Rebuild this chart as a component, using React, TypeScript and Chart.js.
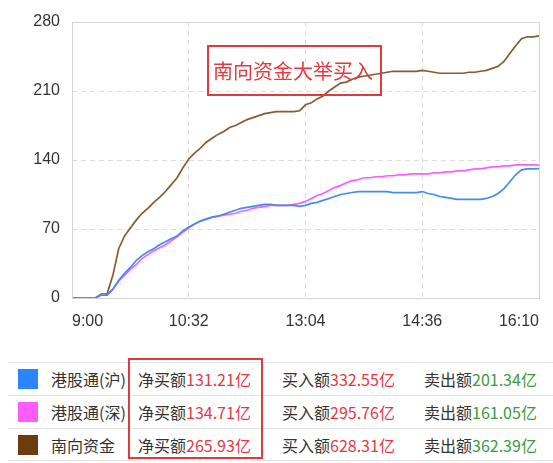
import React, { useEffect, useRef } from "react";
import { Chart, registerables } from "chart.js";

Chart.register(...registerables);

// time axis tick labels (positions 0,100,200,300,400 of the session index)
const xTickLabels = ["9:00", "10:32", "13:04", "14:36", "16:10"];
const yTicks = [0, 70, 140, 210, 280];
const sampleStep = 5;

const seriesNames = ["港股通(沪)", "港股通(深)", "南向资金"];
const lineColors = ["#3f8fe6", "#ff5cff", "#8a5a32"];
const swatchColors = ["#2a86ff", "#ff5cff", "#6e3b0c"];
const netBuy = ["131.21", "134.71", "265.93"];
const buyIn = ["332.55", "295.76", "628.31"];
const sellOut = ["201.34", "161.05", "362.39"];

const shanghai = [
  0, 0, 0, 0, 0, 3, 3, 9, 18, 25,
  31, 38, 43, 47, 50, 54, 57, 60, 63, 68,
  72, 75, 78, 80, 82, 83, 85, 87, 89, 91,
  92, 93, 94, 95, 95, 94, 94, 94, 94, 93,
  94, 96, 97, 99, 101, 103, 105, 106, 107, 108,
  108, 108, 108, 108, 108, 107, 107, 107, 107, 107,
  108, 106, 105, 103, 102, 101, 100, 100, 100, 100,
  100, 101, 103, 106, 111, 118, 125, 130, 131, 131,
  131.21,
];

const shenzhen = [
  0, 0, 0, 0, 0, 3, 3, 9, 17, 23,
  29, 34, 40, 44, 48, 51, 54, 58, 62, 67,
  71, 75, 78, 80, 82, 83, 84, 85, 86, 88,
  89, 91, 92, 93, 94, 94, 94, 94, 95, 96,
  98, 101, 104, 106, 109, 112, 114, 117, 119, 120,
  122, 122, 123, 123, 124, 124, 125, 125, 126, 126,
  126, 126, 127, 127, 128, 128, 129, 129, 130, 131,
  131, 132, 133, 133, 134, 134, 135, 135, 135, 135,
  134.71,
];

const southbound = [
  0, 0, 0, 0, 0, 4, 4, 23, 50, 63,
  71, 79, 86, 91, 97, 102, 108, 115, 122, 132,
  141, 147, 152, 158, 162, 166, 169, 173, 175, 178,
  181, 183, 185, 187, 188, 189, 189, 189, 189, 190,
  196, 198, 202, 205, 210, 214, 218, 219, 222, 224,
  225, 226, 227, 228, 229, 230, 230, 230, 230, 230,
  231, 230, 229, 228, 228, 228, 228, 228, 229, 229,
  230, 231, 233, 235, 240, 248, 256, 263, 265, 265,
  265.93,
];

const seriesValues = [shanghai, shenzhen, southbound];
const annotationText = "南向资金大举买入";

const boxPlugin = {
  id: "plotBox",
  afterDraw(chart: any) {
    const { ctx, chartArea } = chart;
    ctx.save();
    ctx.strokeStyle = "#d4d4d4";
    ctx.lineWidth = 1;
    ctx.setLineDash([]);
    ctx.strokeRect(
      Math.round(chartArea.left) + 0.5,
      Math.round(chartArea.top) + 0.5,
      Math.round(chartArea.right - chartArea.left),
      Math.round(chartArea.bottom - chartArea.top)
    );
    ctx.restore();
  },
};

export default function App() {
  const canvasRef = useRef<HTMLCanvasElement | null>(null);

  useEffect(() => {
    const canvas = canvasRef.current;
    if (!canvas) return;
    const labels = southbound.map((_, i) => i * sampleStep);
    const chart = new Chart(canvas, {
      type: "line",
      data: {
        labels,
        datasets: seriesValues.map((vals, i) => ({
          label: seriesNames[i],
          data: vals,
          borderColor: lineColors[i],
          backgroundColor: lineColors[i],
          borderWidth: 1.7,
          pointRadius: 0,
          tension: 0,
          fill: false,
        })),
      },
      options: {
        responsive: false,
        animation: false,
        devicePixelRatio: 1,
        layout: { padding: { top: 22, right: 2, left: 0, bottom: 0 } },
        plugins: {
          legend: { display: false },
          tooltip: { enabled: false },
        },
        scales: {
          x: {
            type: "linear",
            min: 0,
            max: 400,
            afterFit: (s: any) => {
              s.height = 47;
            },
            afterBuildTicks: (s: any) => {
              s.ticks = xTickLabels.map((_, i) => ({ value: i * 100 }));
            },
            ticks: {
              autoSkip: false,
              maxRotation: 0,
              align: "inner",
              padding: 14,
              color: "#333",
              font: { family: "Liberation Sans", size: 16 },
              callback: (v: any) => xTickLabels[Math.round(Number(v) / 100)] ?? "",
            },
            grid: { color: "#dcdcdc", drawTicks: false, lineWidth: 1 },
            border: { display: false, dash: [5, 4] },
          },
          y: {
            min: 0,
            max: 280,
            afterFit: (s: any) => {
              s.width = 72;
            },
            afterBuildTicks: (s: any) => {
              s.ticks = yTicks.map((v) => ({ value: v }));
            },
            ticks: {
              padding: 12,
              color: "#333",
              font: { family: "Liberation Sans", size: 16 },
            },
            grid: { color: "#dcdcdc", drawTicks: false, lineWidth: 1 },
            border: { display: false, dash: [5, 4] },
          },
        },
      },
      plugins: [boxPlugin],
    } as any);
    return () => chart.destroy();
  }, []);

  const font = '"Noto Sans CJK SC", sans-serif';
  const red = "#e5393f";
  const green = "#3a9a3e";

  return (
    <div
      style={{
        position: "fixed",
        left: 0,
        top: 0,
        width: 553,
        height: 463,
        background: "#fff",
        overflow: "hidden",
        fontFamily: font,
      }}
    >
      <canvas
        ref={canvasRef}
        width={553}
        height={345}
        style={{ position: "absolute", left: 0, top: 0, width: 553, height: 345, display: "block" }}
      />
      <div
        style={{
          position: "absolute",
          left: 207,
          top: 45,
          width: 175,
          height: 51,
          boxSizing: "border-box",
          border: "2px solid #e0393e",
          color: red,
          fontSize: 20,
          lineHeight: "47px",
          paddingLeft: 4,
          whiteSpace: "nowrap",
          background: "transparent",
        }}
      >
        {annotationText}
      </div>
      <div style={{ position: "absolute", left: 8, top: 362, width: 545 }}>
        {seriesNames.map((name, i) => (
          <div
            key={name}
            style={{
              position: "relative",
              height: 33,
              boxSizing: "border-box",
              borderTop: "1px solid #e4e4e4",
              borderBottom: i === seriesNames.length - 1 ? "1px solid #e4e4e4" : "none",
              fontSize: 16,
              lineHeight: "32px",
              color: "#333",
              whiteSpace: "nowrap",
            }}
          >
            <div
              style={{
                position: "absolute",
                left: 10,
                top: 6,
                width: 20,
                height: 20,
                background: swatchColors[i],
              }}
            />
            <span style={{ position: "absolute", left: 43, top: 0 }}>{name}</span>
            <span style={{ position: "absolute", left: 130, top: 0, background: "#fff" }}>
              净买额<span style={{ color: red }}>{netBuy[i]}亿</span>
            </span>
            <span style={{ position: "absolute", left: 274, top: 0 }}>
              买入额<span style={{ color: red }}>{buyIn[i]}亿</span>
            </span>
            <span style={{ position: "absolute", left: 416, top: 0 }}>
              卖出额<span style={{ color: green }}>{sellOut[i]}亿</span>
            </span>
          </div>
        ))}
      </div>
      <div
        style={{
          position: "absolute",
          left: 128,
          top: 358,
          width: 135,
          height: 101,
          boxSizing: "border-box",
          border: "2px solid #e0393e",
          pointerEvents: "none",
        }}
      />
    </div>
  );
}
